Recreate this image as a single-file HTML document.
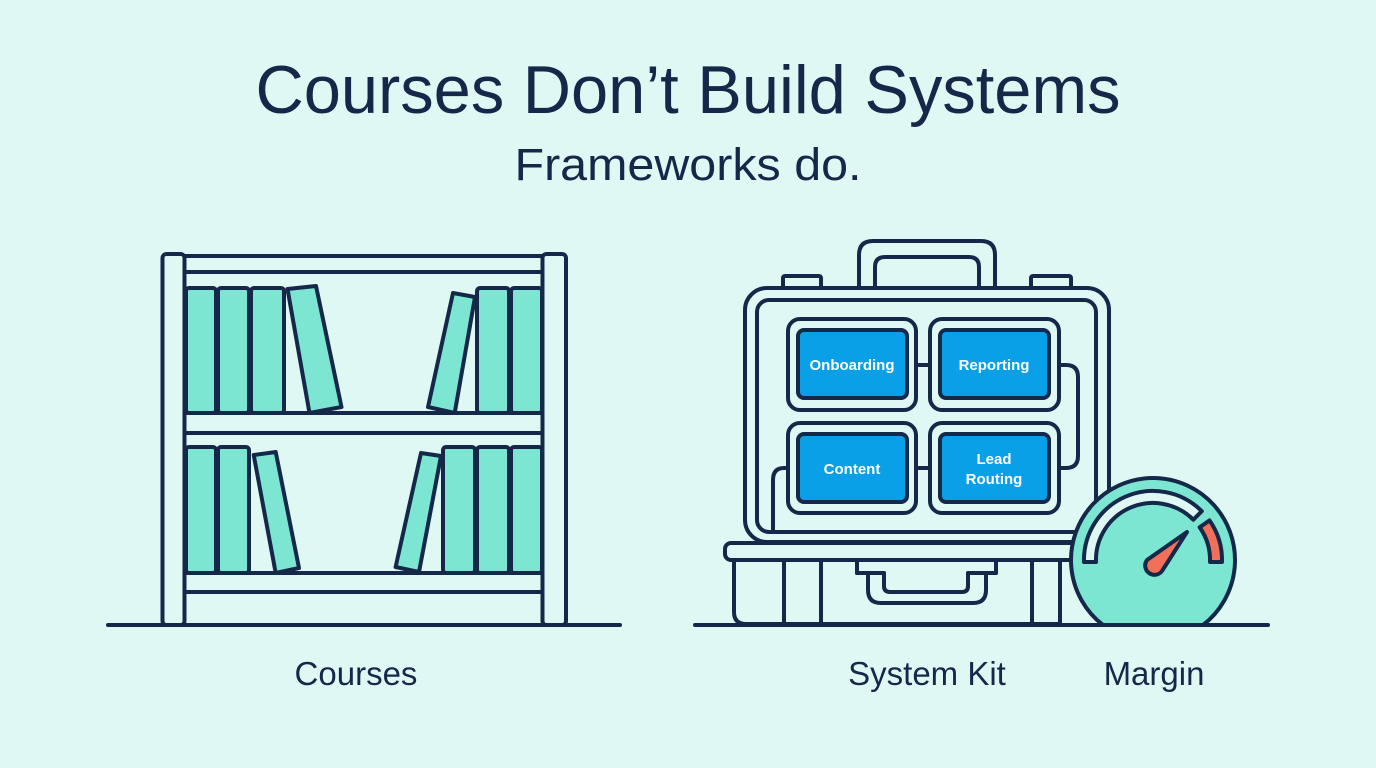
<!DOCTYPE html>
<html><head><meta charset="utf-8"><style>
html,body{margin:0;padding:0;background:#e0f8f4;}
svg{display:block;}
text{font-family:"Liberation Sans",sans-serif;fill:#14294a;}
</style></head><body>
<svg width="1376" height="768" viewBox="0 0 1376 768" xmlns="http://www.w3.org/2000/svg">
<rect width="1376" height="768" fill="#e0f8f4"/>
<text x="688" y="113" font-size="68" text-anchor="middle" textLength="865" lengthAdjust="spacingAndGlyphs">Courses Don’t Build Systems</text>
<text x="688" y="180" font-size="45" text-anchor="middle" textLength="347" lengthAdjust="spacingAndGlyphs">Frameworks do.</text>

<g stroke="#14294a" stroke-width="4" stroke-linejoin="round" stroke-linecap="round" fill="none">
<!-- bookshelf -->
<line x1="108" y1="625" x2="620" y2="625"/>
<g fill="#7de6d3">
<rect x="186" y="288" width="30" height="125" rx="3"/>
<rect x="218" y="288" width="31" height="125" rx="3"/>
<rect x="251" y="288" width="33" height="125" rx="3"/>
<polygon points="287.5,289 316,286 341.5,407 309.5,413"/>
<polygon points="453,293 475,297 454.7,413 428,407"/>
<rect x="477" y="288" width="32" height="125" rx="3"/>
<rect x="511" y="288" width="31" height="125" rx="3"/>
<rect x="186" y="447" width="30" height="126" rx="3"/>
<rect x="218" y="447" width="31" height="126" rx="3"/>
<polygon points="253.7,455 275.7,452 299,568 275.7,573"/>
<polygon points="421,453 441,456 419,572 395.6,567"/>
<rect x="443" y="447" width="32" height="126" rx="3"/>
<rect x="477" y="447" width="32" height="126" rx="3"/>
<rect x="511" y="447" width="31" height="126" rx="3"/>
</g>
<rect x="162.5" y="254" width="22" height="371" rx="4" fill="#e0f8f4"/>
<rect x="542.5" y="254" width="23.5" height="371" rx="4" fill="#e0f8f4"/>
<line x1="184.5" y1="256" x2="542.5" y2="256"/>
<line x1="184.5" y1="272" x2="542.5" y2="272"/>
<rect x="184.5" y="413" width="358" height="20" fill="#e0f8f4"/>
<rect x="184.5" y="573" width="358" height="19" fill="#e0f8f4"/>

<!-- suitcase -->
<line x1="695" y1="625" x2="1268" y2="625"/>
<path d="M859,287 V255 Q859,241 873,241 H981 Q995,241 995,255 V287"/>
<path d="M875,287 V267 Q875,257 885,257 H969 Q979,257 979,267 V287"/>
<rect x="783" y="276" width="38" height="12" rx="2"/>
<rect x="1031" y="276" width="40" height="12" rx="2"/>
<rect x="745" y="288" width="364" height="254" rx="22" fill="#e0f8f4"/>
<rect x="757" y="300" width="339" height="232" rx="12"/>
<line x1="916" y1="365" x2="930" y2="365"/>
<line x1="916" y1="468" x2="930" y2="468"/>
<path d="M1059,365 H1066 Q1078,365 1078,377 V456 Q1078,468 1066,468 H1059"/>
<path d="M788,468 H784 Q773,468 773,480 V532"/>
<rect x="788" y="319" width="128" height="91" rx="12" fill="#e0f8f4"/>
<rect x="930" y="319" width="129" height="91" rx="12" fill="#e0f8f4"/>
<rect x="788" y="423" width="128" height="90" rx="12" fill="#e0f8f4"/>
<rect x="930" y="423" width="129" height="90" rx="12" fill="#e0f8f4"/>
<g fill="#0aa0e8">
<rect x="798" y="330" width="109" height="68" rx="6"/>
<rect x="940" y="330" width="109" height="68" rx="6"/>
<rect x="798" y="434" width="109" height="68" rx="6"/>
<rect x="940" y="434" width="109" height="68" rx="6"/>
</g>
<path d="M734,560 V612 Q734,624 746,624 H1060 V560"/>
<rect x="725" y="543" width="360" height="17" rx="6" fill="#e0f8f4"/>
<line x1="784" y1="560" x2="784" y2="624"/>
<line x1="821" y1="560" x2="821" y2="624"/>
<line x1="1032" y1="560" x2="1032" y2="624"/>
<path d="M857,560 V573 H868 V590 Q868,603 881,603 H973 Q986,603 986,590 V573 H996 V560"/>
<path d="M884,573 V586 Q884,592 890,592 H962 Q968,592 968,586 V573"/>
<path d="M884,573 H857 M968,573 H996"/>
<!-- gauge -->
<path d="M1103,625 A82,82 0 1 1 1203,625 Z" fill="#7de6d3"/>
<path d="M1084,562 A69,69 0 0 1 1201.8,511.2 L1193.3,519.7 A57,57 0 0 0 1096,562 Z" fill="#e0f8f4"/>
<path d="M1209.5,520.4 A69,69 0 0 1 1222,562 L1210,562 A57,57 0 0 0 1199.7,527.3 Z" fill="#f0705a"/>
<path d="M1187,532 L1162,571 A9,9 0 1 1 1147,560 Z" fill="#f0705a"/>
</g>
<g font-size="15" font-weight="bold" text-anchor="middle">
<text x="852" y="370" style="fill:#fff">Onboarding</text>
<text x="994" y="370" style="fill:#fff">Reporting</text>
<text x="852" y="474" style="fill:#fff">Content</text>
<text x="994" y="464" style="fill:#fff">Lead</text>
<text x="994" y="484" style="fill:#fff">Routing</text>
</g>
<text x="356" y="685" font-size="33" text-anchor="middle">Courses</text>
<text x="927" y="685" font-size="33" text-anchor="middle">System Kit</text>
<text x="1154" y="685" font-size="33" text-anchor="middle">Margin</text>
</svg>
</body></html>
